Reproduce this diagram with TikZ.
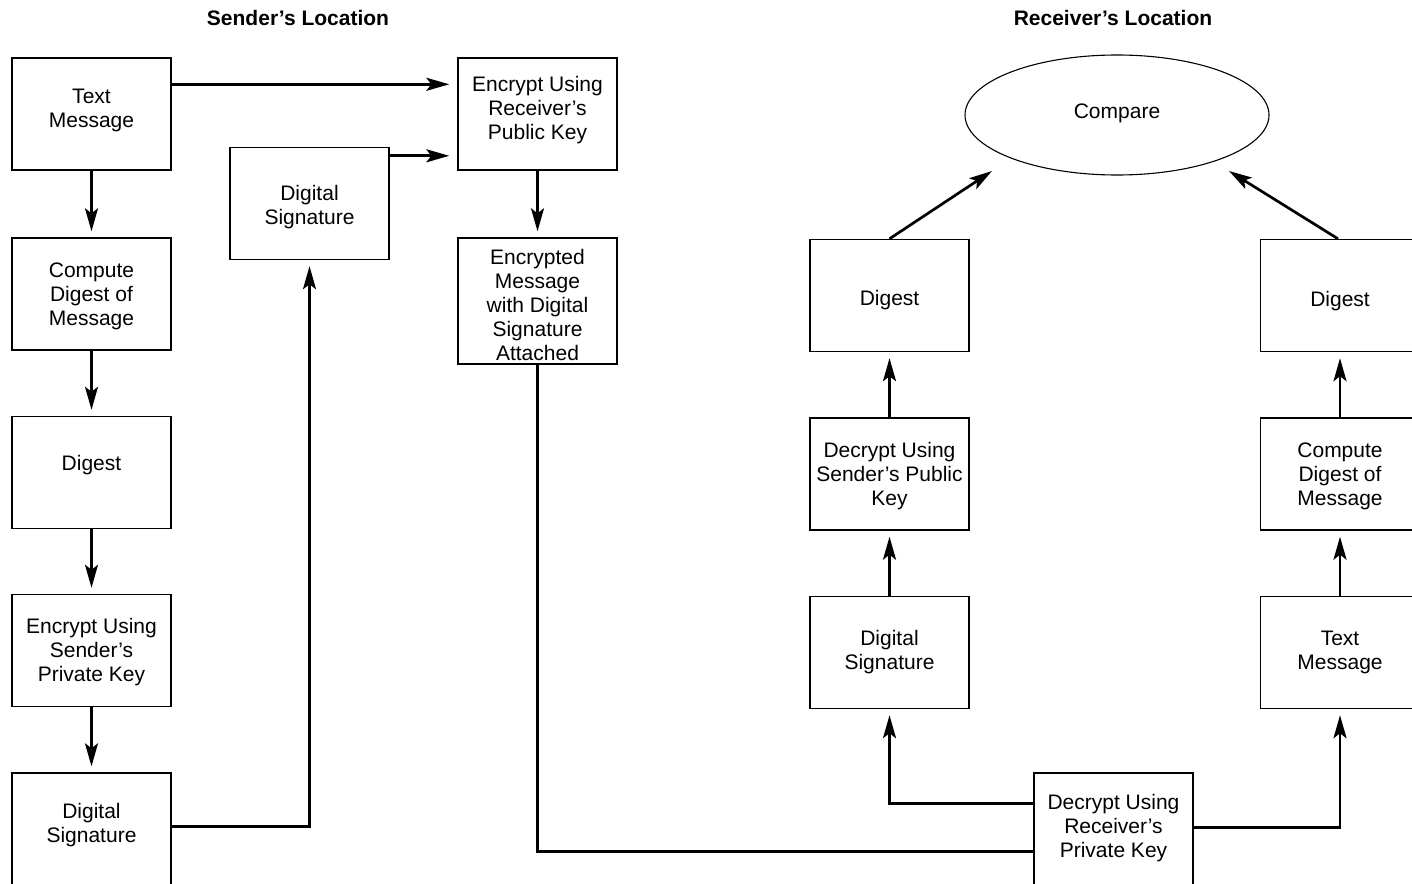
\documentclass[tikz,border=0pt]{standalone}
\usepackage{fontspec}
\setmainfont{Liberation Sans}
\usetikzlibrary{arrows.meta,shapes.geometric}

\begin{document}
\begin{tikzpicture}[x=0.5pt,y=-0.5pt,line join=miter,
    stepbox/.style={draw,line width=0.7pt,minimum width=79.5pt,minimum height=56pt,inner sep=0pt},
    boxtext/.style={align=center,inner sep=0pt,font=\fontsize{10.5}{12}\selectfont},
    cmpshape/.style={draw,ellipse,line width=0.55pt,minimum width=152pt,minimum height=60pt,inner sep=0pt},
    heading/.style={font=\fontsize{10.5}{12}\selectfont\bfseries},
    flow/.style={line width=1.35pt},
    arr/.style={flow,-{Stealth[length=11.5pt,width=6.5pt,inset=2.5pt]},shorten >=3pt}]
  % Match the artwork frame; boxes at the right and bottom run off the page.
  \useasboundingbox (0,0) rectangle (1412,883);
  \clip (0,0) rectangle (1412,883);

  % Column headings.
  \node[heading] (hsnd) at (298,18) {Sender’s Location};
  \node[heading] (hrcv) at (1113,18) {Receiver’s Location};

  % Sender's side, left column top to bottom (text nudged as in the artwork).
  \node[stepbox,label={[boxtext,yshift=2pt]center:Text\\Message}] (txtS) at (91.5,114) {};
  \node[stepbox,label={[boxtext,yshift=-1pt]center:Compute\\Digest of\\Message}] (cmpdS) at (91.5,294) {};
  \node[stepbox,label={[boxtext,yshift=3.5pt]center:Digest}] (dgS) at (91.5,472.5) {};
  \node[stepbox,label={[boxtext,yshift=-1pt]center:Encrypt Using\\Sender’s\\Private Key}] (encS) at (91.5,650.5) {};
  \node[stepbox,label={[boxtext,yshift=2pt]center:Digital\\Signature}] (sigS) at (91.5,829) {};

  % Sender's side, signature and sealed message.
  \node[stepbox,label={[boxtext,yshift=-2pt]center:Digital\\Signature}] (sigM) at (309.5,203.5) {};
  \node[stepbox,label={[boxtext,yshift=2pt]center:Encrypt Using\\Receiver’s\\Public Key}] (encR) at (537.5,114) {};
  \node[stepbox,minimum height=63pt,
    label={[boxtext,yshift=-2pt]center:Encrypted\\Message\\with Digital\\Signature\\Attached}] (sealed) at (537.5,301) {};

  % Receiver's side.
  \node[cmpshape,label={[boxtext,yshift=1pt]center:Compare}] (cmp) at (1117,115) {};
  \node[stepbox,label={[boxtext,yshift=-2.5pt]center:Digest}] (dgL) at (889.5,295.5) {};
  \node[stepbox,label={[boxtext,yshift=-1pt]center:Decrypt Using\\Sender’s Public\\Key}] (decS) at (889.5,474) {};
  \node[stepbox,label={[boxtext]center:Digital\\Signature}] (sigR) at (889.5,652.5) {};
  \node[stepbox,label={[boxtext,yshift=-3pt]center:Digest}] (dgR) at (1340,295.5) {};
  \node[stepbox,label={[boxtext,yshift=-1pt]center:Compute\\Digest of\\Message}] (cmpdR) at (1340,474) {};
  \node[stepbox,label={[boxtext]center:Text\\Message}] (txtR) at (1340,652.5) {};
  \node[stepbox,label={[boxtext,yshift=0.5pt]center:Decrypt Using\\Receiver’s\\Private Key}] (decR) at (1113.5,829) {};

  % Free ends of the two arrows into the ellipse.
  \coordinate (cmpL) at (992,171);
  \coordinate (cmpR) at (1229,171);

  % Tap points on box sides.
  \coordinate (txtSout) at ([yshift=-13.5pt]txtS.north east);
  \coordinate (sigMout) at ([yshift=-4.5pt]sigM.north east);
  \coordinate (sigSout) at ([yshift=-27pt]sigS.north east);
  \coordinate (decRin) at ([yshift=-39.5pt]decR.north west);
  \coordinate (decRoutL) at ([yshift=-15.5pt]decR.north west);
  \coordinate (decRoutR) at ([yshift=-27.5pt]decR.north east);

  % Sender's chain.
  \foreach \a/\b in {txtS/cmpdS,cmpdS/dgS,dgS/encS,encS/sigS,encR/sealed} {
    \draw[arr] (\a.south) -- (\b.north);
  }
  \draw[arr,shorten >=4pt] (txtSout) -- (txtSout -| encR.west);
  \draw[arr,shorten >=4pt] (sigMout) -- (sigMout -| encR.west);
  \draw[arr] (sigSout) -| (sigM.south);

  % Transfer to the receiver.
  \draw[flow] (sealed.south) |- (decRin);
  \draw[arr] (decRoutL) -| (sigR.south);
  \draw[arr] (decRoutR) -| (txtR.south);

  % Receiver's chains.
  \foreach \a/\b in {sigR/decS,decS/dgL,txtR/cmpdR,cmpdR/dgR} {
    \draw[arr] (\a.north) -- (\b.south);
  }
  \draw[arr,shorten >=0pt] (dgL.north) -- (cmpL);
  \draw[arr,shorten >=0pt] ([xshift=-1pt]dgR.north) -- (cmpR);
\end{tikzpicture}
\end{document}
